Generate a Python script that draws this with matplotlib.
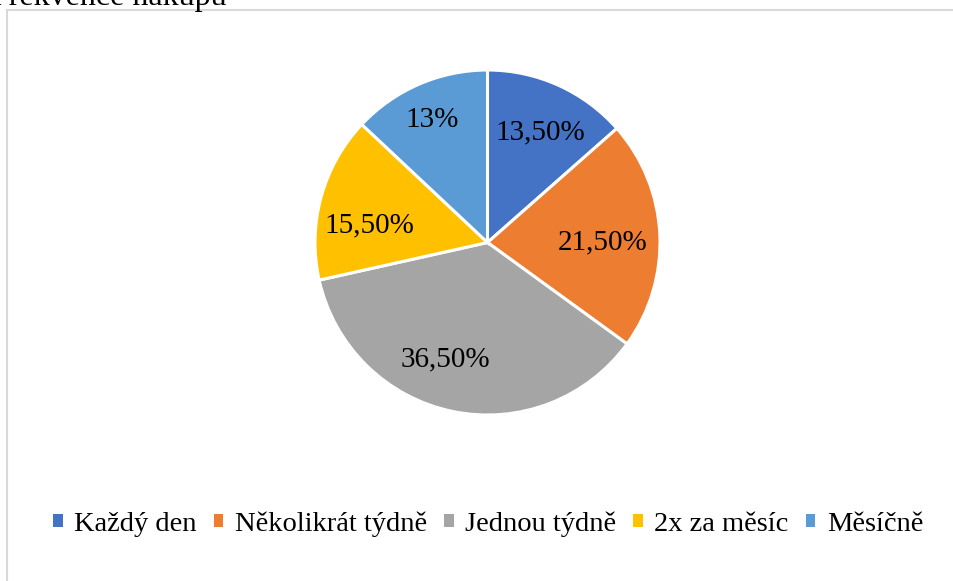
import numpy as np
import matplotlib
matplotlib.use("Agg")
import matplotlib.pyplot as plt
from matplotlib.patches import Rectangle, Patch

plt.rcParams['font.family'] = ['Liberation Serif', 'DejaVu Serif']

title = "Frekvence nákupu"
categories = ["Každý den", "Několikrát týdně", "Jednou týdně", "2x za měsíc", "Měsíčně"]
values = [13.5, 21.5, 36.5, 15.5, 13.0]
value_labels = ["13,50%", "21,50%", "36,50%", "15,50%", "13%"]
colors = ["#4472C4", "#ED7D31", "#A5A5A5", "#FFC000", "#5B9BD5"]
label_dist = [0.71, 0.67, 0.72, 0.69, 0.78]
label_shift_cw = [1.3, 2.7, 8.3, -6.8, -0.8]   # degrees, clockwise

W, H = 954, 581
fig = plt.figure(figsize=(W / 100, H / 100), dpi=100)
fig.patch.set_facecolor("white")

# chart border (extends beyond the right and bottom edges)
fig.patches.append(Rectangle((7 / W, -0.1), 1.2, 1 - 10 / H + 0.1,
                             transform=fig.transFigure, fill=False,
                             edgecolor="#D9D9D9", linewidth=1.5))

# title, partially cut off at the top-left
fig.text(227 / W, 1 - 5 / H, title, ha="right", va="baseline",
         fontsize=23, color="black")

cx, cy, r = 487.5, 242.5, 172.5
ax = fig.add_axes([(cx - r) / W, 1 - (cy + r) / H, 2 * r / W, 2 * r / H])
wedges, _ = ax.pie(values, colors=colors, startangle=90, counterclock=False,
                   wedgeprops=dict(edgecolor="white", linewidth=2.2), radius=1)
ax.set_xlim(-1, 1)
ax.set_ylim(-1, 1)
ax.set_aspect("equal")
ax.axis("off")

for w, lab, d, s in zip(wedges, value_labels, label_dist, label_shift_cw):
    ang = np.deg2rad((w.theta1 + w.theta2) / 2 - s)
    ax.text(d * np.cos(ang), d * np.sin(ang), lab, ha="center", va="center",
            fontsize=21, color="black")

handles = [Patch(facecolor=c, edgecolor="none") for c in colors]
leg = fig.legend(handles, categories, loc="center", ncol=5,
                 bbox_to_anchor=(488 / W, 1 - 524 / H), frameon=False,
                 fontsize=20.5, handlelength=0.34, handleheight=0.34,
                 handletextpad=0.4, columnspacing=0.6, borderpad=0)

fig.savefig("out.png", dpi=100, facecolor="white")
